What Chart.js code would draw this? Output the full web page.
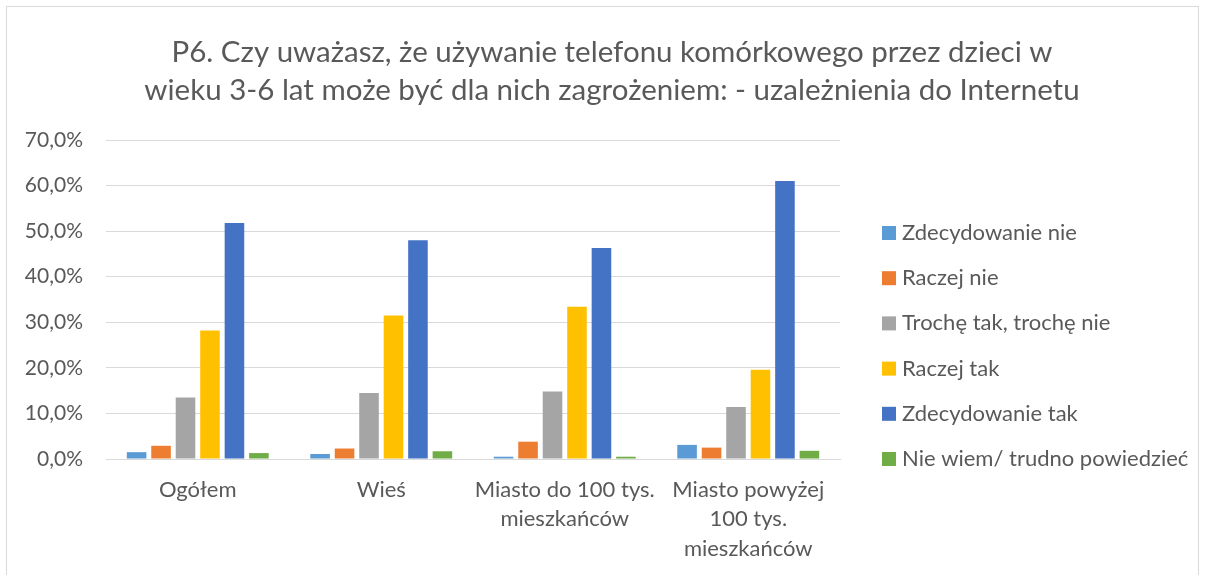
<!DOCTYPE html>
<html>
<head>
<meta charset="utf-8">
<script src="https://cdn.jsdelivr.net/npm/chart.js@4"></script>
<style>
  html, body { margin: 0; padding: 0; background: #fff; }
  #wrap { position: absolute; left: 0; top: 0; width: 1206px; height: 575px; }
  #frame { position: absolute; left: 6px; top: 6px; width: 1193px; height: 580px; border: 1px solid #d9d9d9; box-sizing: border-box; }
  canvas { position: absolute; left: 0; top: 0; }
</style>
</head>
<body>
<div id="wrap">
  <div id="frame"></div>
  <canvas id="c" width="1206" height="575"></canvas>
</div>
<script>
const categories = ["Ogółem", "Wieś", ["Miasto do 100 tys.", "mieszkańców"], ["Miasto powyżej", "100 tys.", "mieszkańców"]];
const seriesNames = ["Zdecydowanie nie", "Raczej nie", "Trochę tak, trochę nie", "Raczej tak", "Zdecydowanie tak", "Nie wiem/ trudno powiedzieć"];
const zdecydowanieNie = [1.5, 1.1, 0.5, 3.1];
const raczejNie = [2.9, 2.3, 3.8, 2.5];
const trocheTakTrocheNie = [13.5, 14.5, 14.8, 11.4];
const raczejTak = [28.2, 31.5, 33.4, 19.6];
const zdecydowanieTak = [51.8, 48.0, 46.3, 61.0];
const nieWiem = [1.3, 1.7, 0.5, 1.8];
const seriesColors = ["#5b9bd5", "#ed7d31", "#a5a5a5", "#ffc000", "#4472c4", "#70ad47"];
const yTicks = [0, 10, 20, 30, 40, 50, 60, 70];
const titleLines = ["P6. Czy uważasz, że używanie telefonu komórkowego przez dzieci w", "wieku 3-6 lat może być dla nich zagrożeniem: - uzależnienia do Internetu"];

const allSeries = [zdecydowanieNie, raczejNie, trocheTakTrocheNie, raczejTak, zdecydowanieTak, nieWiem];
const FONT = "Lato, 'Open Sans', sans-serif";
const TXT = "#595959";

const titleAndLegend = {
  id: "titleAndLegend",
  afterDraw(chart) {
    const ctx = chart.ctx;
    const area = chart.chartArea;
    ctx.save();
    // title, centered on the whole chart box
    ctx.font = "29.5px " + FONT;
    ctx.fillStyle = TXT;
    ctx.textBaseline = "middle";
    ctx.textAlign = "center";
    titleLines.forEach((t, i) => ctx.fillText(t, 612, 52 + i * 38));
    // legend on the right
    const bx = area.right + 42;
    const top = area.top + 93;
    const step = 45.2;
    ctx.font = "22px " + FONT;
    ctx.textAlign = "left";
    chart.data.datasets.forEach((ds, i) => {
      const cy = top + i * step;
      ctx.fillStyle = ds.backgroundColor;
      ctx.fillRect(bx, cy - 7, 14, 14);
      ctx.fillStyle = TXT;
      ctx.fillText(ds.label, bx + 20, cy);
    });
    ctx.restore();
  }
};

new Chart(document.getElementById("c"), {
  type: "bar",
  data: {
    labels: categories,
    datasets: allSeries.map((d, i) => ({
      label: seriesNames[i],
      data: d,
      backgroundColor: seriesColors[i],
      borderWidth: 0,
      categoryPercentage: 0.8,
      barPercentage: 0.8
    }))
  },
  plugins: [titleAndLegend],
  options: {
    responsive: false,
    animation: false,
    devicePixelRatio: 1,
    layout: { padding: { left: 8, right: 366, top: 140, bottom: 0 } },
    plugins: {
      title: { display: false },
      legend: { display: false },
      tooltip: { enabled: false }
    },
    scales: {
      x: {
        afterFit: (s) => { s.height = 116; },
        grid: { display: false },
        border: { color: "#d9d9d9", width: 1 },
        ticks: { color: TXT, font: { family: FONT, size: 22, lineHeight: 1.34 }, maxRotation: 0, autoSkip: false, padding: 8 }
      },
      y: {
        min: 0,
        max: 70,
        afterFit: (s) => { s.width = 98; },
        afterBuildTicks: (s) => { s.ticks = yTicks.map(v => ({ value: v })); },
        grid: { color: "#d9d9d9", lineWidth: 1, drawTicks: false },
        border: { display: false },
        ticks: {
          color: TXT,
          font: { family: FONT, size: 21 },
          padding: 23,
          callback: (v) => v.toFixed(1).replace(".", ",") + "%"
        }
      }
    }
  }
});
</script>
</body>
</html>
